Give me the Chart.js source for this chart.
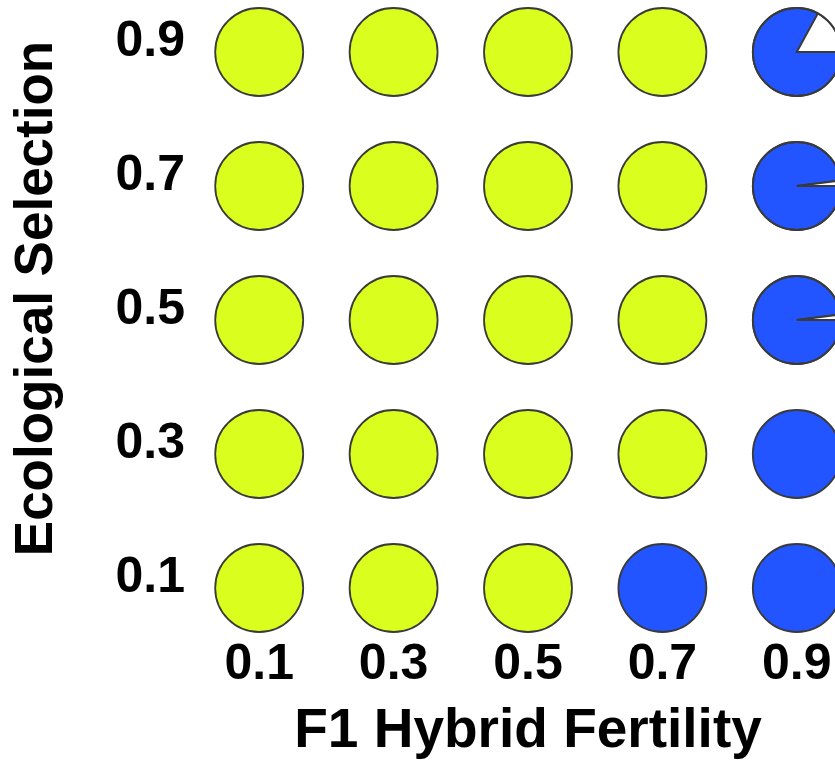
<!DOCTYPE html>
<html><head><meta charset="utf-8">
<script src="https://cdn.jsdelivr.net/npm/chart.js@4.4.0/dist/chart.umd.min.js"></script>
<style>html,body{margin:0;padding:0;background:#fff;overflow:hidden}#wrap{width:835px;height:772px;overflow:hidden}</style>
</head><body><div id="wrap"><canvas id="c" width="864" height="772"></canvas></div>
<script>
// Categories / tick values
const fertility = [0.1, 0.3, 0.5, 0.7, 0.9];
const selection = [0.1, 0.3, 0.5, 0.7, 0.9];
const tickValues = [0.1, 0.3, 0.5, 0.7, 0.9];
// Pie shares: rows = ecological selection 0.1..0.9, columns = F1 hybrid fertility 0.1..0.9
const yellowShare = [
  [1, 1, 1, 0, 0],
  [1, 1, 1, 1, 0],
  [1, 1, 1, 1, 0],
  [1, 1, 1, 1, 0],
  [1, 1, 1, 1, 0]
];
const blueShare = [
  [0, 0, 0, 1, 1],
  [0, 0, 0, 0, 1],
  [0, 0, 0, 0, 0.98],
  [0, 0, 0, 0, 0.98],
  [0, 0, 0, 0, 0.83]
];
const whiteShare = [
  [0, 0, 0, 0, 0],
  [0, 0, 0, 0, 0],
  [0, 0, 0, 0, 0.02],
  [0, 0, 0, 0, 0.02],
  [0, 0, 0, 0, 0.17]
];
const sliceColors = ['#DAFF1E', '#2255FF', '#FFFFFF'];

const points = [];
selection.forEach((s, si) => fertility.forEach((f, fi) => points.push({x: f, y: s, si, fi})));

const pieRadius = 44;
const piePlugin = {
  id: 'pies',
  afterDatasetsDraw(chart) {
    const ctx = chart.ctx;
    const meta = chart.getDatasetMeta(0);
    meta.data.forEach((el, i) => {
      const p = points[i];
      const shares = [yellowShare[p.si][p.fi], blueShare[p.si][p.fi], whiteShare[p.si][p.fi]];
      const cx = el.x, cy = el.y;
      let a = 0;
      ctx.save();
      ctx.lineWidth = 1.8;
      ctx.strokeStyle = '#3a3a3a';
      shares.forEach((v, k) => {
        if (v <= 0) return;
        const a2 = a + v * Math.PI * 2;
        ctx.beginPath();
        if (v < 1) ctx.moveTo(cx, cy);
        ctx.arc(cx, cy, pieRadius, a, a2);
        ctx.closePath();
        ctx.fillStyle = sliceColors[k];
        ctx.fill();
        if (v < 1) ctx.stroke();
        a = a2;
      });
      ctx.beginPath();
      ctx.arc(cx, cy, pieRadius, 0, Math.PI * 2);
      ctx.stroke();
      ctx.restore();
    });
  }
};

const tickFont = {family: "'Liberation Sans', Arial, sans-serif", size: 50, weight: 'bold'};
const xTitleFont = {family: "'Liberation Sans', Arial, sans-serif", size: 55, weight: 'bold'};
const yTitleFont = {family: "'Liberation Sans', Arial, sans-serif", size: 53, weight: 'bold'};
const noPad = s => { s.paddingTop = 0; s.paddingBottom = 0; s.paddingLeft = 0; s.paddingRight = 0; };

new Chart(document.getElementById('c'), {
  type: 'scatter',
  data: {datasets: [{data: points, pointRadius: 0, pointHoverRadius: 0}]},
  options: {
    responsive: false,
    animation: false,
    devicePixelRatio: 1,
    events: [],
    layout: {padding: 0},
    plugins: {legend: {display: false}, tooltip: {enabled: false}},
    scales: {
      x: {
        type: 'linear', min: 0, max: 1,
        afterBuildTicks: s => { s.ticks = tickValues.map(v => ({value: v})); },
        afterFit: s => { s.height = 175; noPad(s); },
        grid: {display: false, drawTicks: false},
        border: {display: false},
        ticks: {font: tickFont, color: '#000', padding: 38, autoSkip: false, maxRotation: 0,
                callback: v => Number(v).toFixed(1)},
        title: {display: true, text: 'F1 Hybrid Fertility', font: xTitleFont, color: '#000',
                padding: {top: 4, bottom: 7}}
      },
      y: {
        type: 'linear', min: 0.0866, max: 0.9776,
        afterBuildTicks: s => { s.ticks = tickValues.map(v => ({value: v})); },
        afterFit: s => { s.width = 192; noPad(s); },
        grid: {display: false, drawTicks: false},
        border: {display: false},
        ticks: {font: tickFont, color: '#000', padding: 7, labelOffset: -10, autoSkip: false,
                callback: v => Number(v).toFixed(1)},
        title: {display: true, text: 'Ecological Selection', font: yTitleFont, color: '#000',
                padding: {top: 6, bottom: 4}}
      }
    }
  },
  plugins: [piePlugin]
});
</script></body></html>
